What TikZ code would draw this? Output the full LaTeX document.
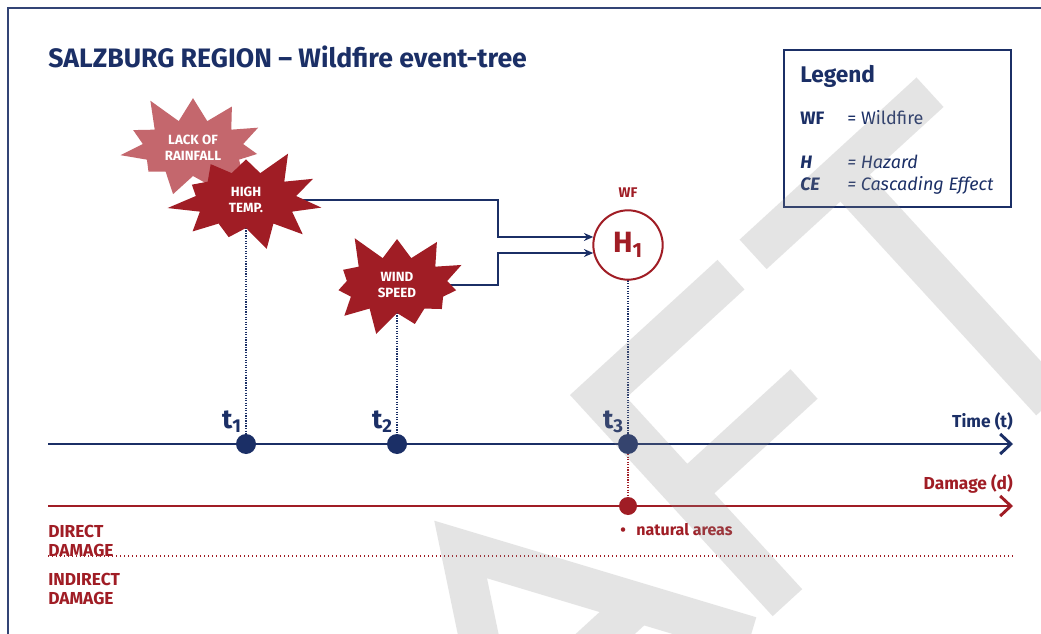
\documentclass[tikz,border=0pt]{standalone}
\usepackage{fontspec}
\setmainfont{Fira Sans}
\usetikzlibrary{shapes.symbols,arrows.meta,positioning}

\definecolor{blunotte}{HTML}{1B2F66}
\definecolor{fuoco}{HTML}{A01D25}
\definecolor{fuocochiaro}{HTML}{C4676D}

\pgfdeclarelayer{sfondo}
\pgfsetlayers{sfondo,main}

\begin{document}
\begin{tikzpicture}[x=0.75pt, y=-0.75pt, >={Stealth[length=7pt,width=6pt]},
    evento/.style={starburst, starburst points=11, starburst point height=22pt,
      minimum width=120pt, minimum height=86pt, inner sep=1pt, align=center,
      text=white, font=\bfseries\fontsize{10}{12}\selectfont},
    flusso/.style={blunotte, line width=1.1pt, ->},
    punti/.style={densely dotted, line width=0.9pt},
    istante/.style={circle, fill=blunotte, minimum size=15pt, inner sep=0pt},
    asse/.style={line width=2.2pt, -{Straight Barb[length=8pt,width=15pt]}},
    etichetta/.style={inner sep=0pt, font=\bfseries\fontsize{13}{14.25}\selectfont},
    voce/.style={inner sep=0pt, anchor=base west, text=blunotte, font=\fontsize{13.5}{15}\selectfont},
    tempo/.style={inner sep=0pt, text=blunotte, font=\bfseries\fontsize{20}{20}\selectfont}]
  \useasboundingbox (0,0) rectangle (1041,634);

  % Cornice e titolo
  \draw[blunotte!90, line width=1.5pt] (8,634) -- (8,8) -- (1041,8);
  \node[anchor=base west, inner sep=0pt, text=blunotte, font=\bfseries\fontsize{20}{22}\selectfont]
    (titolo) at (48,68) {SALZBURG REGION – Wildfire event-tree};

  % Legenda
  \draw[blunotte, line width=1.5pt] (784,50) rectangle (1011,207);
  \node[voce, font=\bfseries\fontsize{17}{19}\selectfont] (legenda) at (800,83) {Legend};
  \node[voce, font=\bfseries\fontsize{13.5}{15}\selectfont] (wfsigla) at (800,125) {WF};
  \node[voce] (wfvoce) at (847,125) {= Wildfire};
  \node[voce, font=\bfseries\itshape\fontsize{13.5}{15}\selectfont] (hsigla) at (800,169) {H};
  \node[voce, font=\itshape\fontsize{13.5}{15}\selectfont] (hvoce) at (847,169) {= Hazard};
  \node[voce, font=\bfseries\itshape\fontsize{13.5}{15}\selectfont] (cesigla) at (800,191) {CE};
  \node[voce, font=\itshape\fontsize{13.5}{15}\selectfont] (cevoce) at (847,191) {= Cascading Effect};

  % Eventi (stelle)
  \node[evento, fill=fuocochiaro, random starburst=11] (pioggia) at (193,148) {LACK OF\\RAINFALL};
  \node[evento, fill=fuoco, random starburst=42] (temp) at (246,200) {HIGH\\TEMP.};
  \node[evento, fill=fuoco, random starburst=5] (vento) at (397,285) {WIND\\SPEED};

  % Pericolo
  \node[circle, draw=fuoco, line width=1.5pt, fill=white, minimum size=52pt, inner sep=0pt,
    text=fuoco, font=\bfseries\fontsize{22}{22}\selectfont] (h1) at (628,245) {H\textsubscript{1}};
  \node[inner sep=0pt, text=fuoco, font=\bfseries\fontsize{10.5}{12}\selectfont, above=9pt of h1] (wf) {WF};
  \coordinate (snodo) at (498,0);

  % Asse dei tempi
  \coordinate (tinizio) at (48,444);
  \coordinate (tfine) at (1013,444);
  \draw[asse, blunotte] (tinizio) -- (tfine);
  \node[istante] (t1) at (temp |- tinizio) {};
  \node[istante] (t2) at (vento |- tinizio) {};
  \node[istante] (t3) at (h1 |- tinizio) {};
  \node[tempo, above left=3pt and -2.5pt of t1] (lt1) {t\textsubscript{1}};
  \node[tempo, above left=3pt and -2.5pt of t2] (lt2) {t\textsubscript{2}};
  \node[tempo, above left=3pt and -2.5pt of t3] (lt3) {t\textsubscript{3}};
  \node[etichetta, text=blunotte, anchor=base east] (tlabel) at (1013,427) {Time (t)};

  % Asse dei danni
  \coordinate (dinizio) at (48,506);
  \coordinate (dfine) at (1013,506);
  \draw[asse, fuoco] (dinizio) -- (dfine);
  \node[istante, fill=fuoco, minimum size=13.5pt] (d3) at (h1 |- dinizio) {};
  \node[etichetta, text=fuoco, anchor=base east] (dlabel) at (1013,489) {Damage (d)};
  \node[inner sep=0pt, anchor=base west, text=fuoco, font=\bfseries\fontsize{12}{13}\selectfont]
    (aree) at (620,535) {\textbullet\hspace{8pt}natural areas};
  \node[etichetta, text=fuoco, align=left, anchor=north west] (diretto) at (48,525) {DIRECT\\DAMAGE};
  \node[etichetta, text=fuoco, align=left, anchor=north west] (indiretto) at (48,573) {INDIRECT\\DAMAGE};
  \coordinate (sepinizio) at (48,556);
  \coordinate (sepfine) at (1013,556);

  % Collegamenti (sotto le stelle)
  \begin{pgfonlayer}{sfondo}
    \fill[white] (0,0) rectangle (1041,634);
    \draw[flusso] (temp.center) -- (temp.center -| snodo) |- (h1.167);
    \draw[flusso] (vento.center) -- (vento.center -| snodo) |- (h1.193);
    \draw[punti, blunotte] (temp.center) -- (t1.center);
    \draw[punti, blunotte] (vento.center) -- (t2.center);
    \draw[punti, blunotte] (h1.center) -- (t3.center);
    \draw[punti, fuoco] (t3.center) -- (d3.center);
    \draw[fuoco, dotted, line width=1pt] (sepinizio) -- (sepfine);
  \end{pgfonlayer}

  % Filigrana (AFT di DRAFT)
  \begin{scope}[shift={(570,395)}, rotate=42.5, draw=black!45, draw opacity=0.23,
      line width=30pt, line cap=butt, line join=miter]
    \draw (-340,300) -- (-185,40) -- (-30,300) (-280,200) -- (-90,200)
          (200,20) -- (20,20) -- (20,300) (20,150) -- (180,150)
          (230,20) -- (470,20) (350,20) -- (350,330);
  \end{scope}
\end{tikzpicture}
\end{document}
